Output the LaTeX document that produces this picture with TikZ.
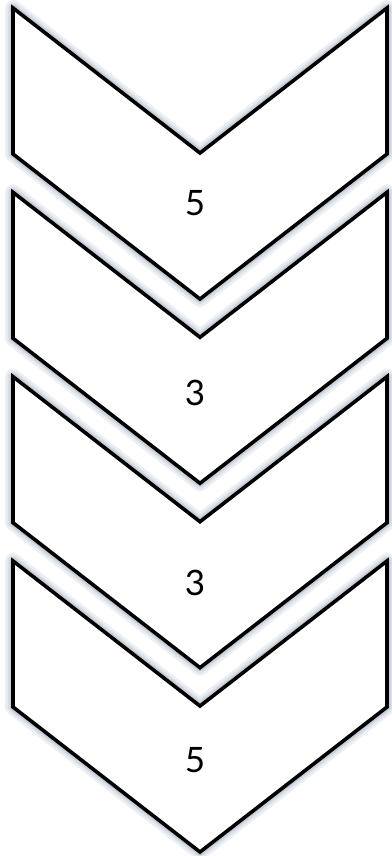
\documentclass[tikz,border=0pt]{standalone}
\usepackage{fontspec}
\setmainfont{Lato}
\usepackage{tikz}
\usetikzlibrary{positioning}
\definecolor{glowA}{RGB}{236,239,243}
\definecolor{glowB}{RGB}{220,225,232}
\definecolor{glowC}{RGB}{200,206,215}
\begin{document}
\begin{tikzpicture}[
    x=1pt, y=-1pt,
    chev/.style={fill=white, draw=black, line width=3.6pt, line join=miter,
        preaction={draw=glowA, line width=16pt, line join=round},
        preaction={draw=glowB, line width=11pt, line join=round},
        preaction={draw=glowC, line width=7pt, line join=round}},
    numlbl/.style={font=\fontsize{35}{40}\selectfont, inner sep=0pt},
]
\useasboundingbox (0,0) rectangle (391,856);
% bottom chevron first, top one last
\draw[chev] (13,561) -- (200,706) -- (387,561) -- (387,707) -- (200,852) -- (13,707) -- cycle;
\draw[chev] (13,376.7) -- (200,521.7) -- (387,376.7) -- (387,522.7) -- (200,667.7) -- (13,522.7) -- cycle;
\draw[chev] (13,192.3) -- (200,337.3) -- (387,192.3) -- (387,338.3) -- (200,483.3) -- (13,338.3) -- cycle;
\draw[chev] (13,8) -- (200,153) -- (387,8) -- (387,154) -- (200,299) -- (13,154) -- cycle;
\node[numlbl] (n1) at (195,203) {5};
\node[numlbl] (n2) at (195,393) {3};
\node[numlbl] (n3) at (195,583) {3};
\node[numlbl] (n4) at (195,760) {5};
\end{tikzpicture}
\end{document}
